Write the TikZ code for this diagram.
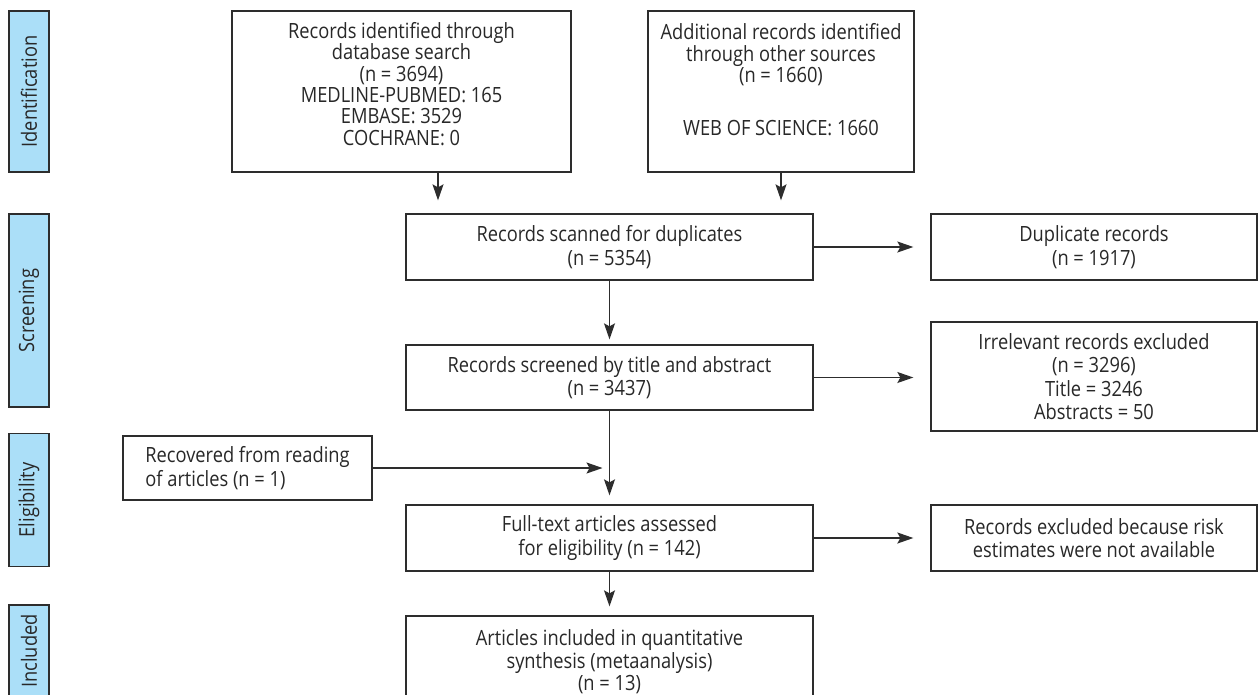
\documentclass[tikz,border=0pt]{standalone}
\usepackage{fontspec}
\setmainfont[FakeStretch=0.87]{Open Sans}
\usetikzlibrary{arrows.meta,calc}
\definecolor{lbl}{RGB}{171,223,248}
\definecolor{ln}{RGB}{45,45,45}
\definecolor{txt}{RGB}{40,40,40}
\begin{document}
\begin{tikzpicture}[x=1pt,y=-1pt,
  font=\fontsize{21}{23.5}\selectfont,
  box/.style={draw=ln, line width=1.3pt, fill=white, inner sep=0pt, align=center, text=txt},
  stagebox/.style={draw=ln, line width=1.3pt, fill=lbl, inner sep=0pt, rotate=90, text=txt, minimum height=40pt},
  txtnode/.style={inner sep=0pt, align=center, text=txt, font=\fontsize{21}{21.4}\selectfont},
  arr/.style={draw=ln, line width=1.3pt, -{Stealth[length=16pt,width=11pt,inset=3pt]}}
]
\useasboundingbox (0,0) rectangle (1259,694);

% stage labels
\node[stagebox, minimum width=161pt] (sid) at (29,91.5) {Identification};
\node[stagebox, minimum width=193pt] (ssc) at (29,310.5) {Screening};
\node[stagebox, minimum width=133pt] (sel) at (29,500) {Eligibility};
\node[stagebox, minimum width=92pt] (sin) at (29,651) {Included};

% boxes
\node[box, minimum width=339pt, minimum height=161pt] (A) at (401.5,91.5) {};
\node[txtnode] (At) at (401.5,84) {Records identified through\\database search\\(n = 3694)\\MEDLINE-PUBMED: 165\\EMBASE: 3529\\COCHRANE: 0};
\node[box, minimum width=266pt, minimum height=161pt] (B) at (781,91.5) {};
\node[txtnode] (Bt) at (781,80) {Additional records identified\\through other sources\\(n = 1660)\\[32pt]WEB OF SCIENCE: 1660};

\node[box, minimum width=407pt, minimum height=66pt] (S1) at (609.5,247) {Records scanned for duplicates\\(n = 5354)};
\node[box, minimum width=326pt, minimum height=66pt] (D) at (1094,247) {Duplicate records\\(n = 1917)};

\node[box, minimum width=407pt, minimum height=65pt] (S2) at (609.5,377.5) {Records screened by title and abstract\\(n = 3437)};
\node[box, minimum width=326pt, minimum height=109pt] (I) at (1094,376.5) {Irrelevant records excluded\\(n = 3296)\\Title = 3246\\Abstracts = 50};

\node[box, minimum width=249pt, minimum height=64pt, align=left] (R) at (247.5,468) {Recovered from reading\\of articles (n = 1)};

\node[box, minimum width=407pt, minimum height=66pt] (F) at (609.5,538) {Full-text articles assessed\\for eligibility (n = 142)};
\node[box, minimum width=326pt, minimum height=66pt] (E) at (1094,538) {Records excluded because risk\\estimates were not available};

\node[box, minimum width=407pt, minimum height=92pt, font=\fontsize{21}{22.5}\selectfont] (G) at (609.5,662) {Articles included in quantitative\\synthesis (metaanalysis)\\(n = 13)};

% connectors
\coordinate (a1) at (438,172);
\draw[arr, shorten >=13pt] (a1) -- (a1 |- S1.north);
\draw[arr, shorten >=13pt] (B.south) -- (B.south |- S1.north);
\draw[arr, shorten >=17pt] (S1.east) -- (D.west);
\draw[arr, shorten >=5pt] (S1.south) -- (S2.north);
\draw[arr, shorten >=17pt] (S2.east) -- (S2.east -| I.west);
\draw[arr, shorten >=9pt] (S2.south) -- (F.north);
\draw[arr, shorten >=7pt] (R.east) -- (R.east -| S2.south);
\draw[arr, shorten >=17pt] (F.east) -- (E.west);
\draw[arr, shorten >=9pt] (F.south) -- (G.north);
\end{tikzpicture}
\end{document}
